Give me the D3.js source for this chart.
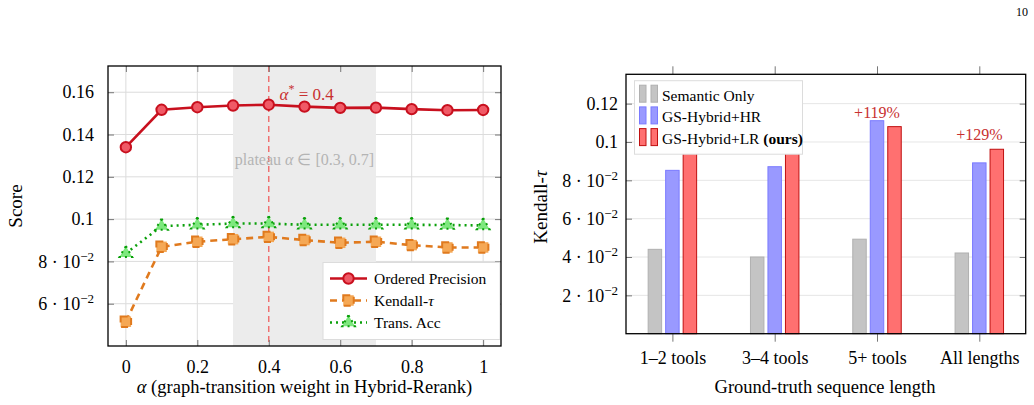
<!DOCTYPE html>
<html>
<head>
<meta charset="utf-8">
<script src="https://d3js.org/d3.v7.min.js"></script>
<style>
body { margin: 0; background: #fff; }
.grid line { stroke: #dcdcdc; stroke-width: 1; }
</style>
</head>
<body>
<svg id="fig" width="1034" height="405"></svg>
<script>

// left panel: sensitivity to alpha
var alphas = [0, 0.1, 0.2, 0.3, 0.4, 0.5, 0.6, 0.7, 0.8, 0.9, 1]
var orderedPrecision = [0.134, 0.1517, 0.1529, 0.1537, 0.1541, 0.1532, 0.1526, 0.1527, 0.1520, 0.1515, 0.1516]
var kendallTau = [0.0515, 0.0869, 0.0893, 0.0905, 0.0916, 0.0901, 0.0888, 0.0893, 0.0877, 0.0866, 0.0866]
var transAcc = [0.0838, 0.0967, 0.0973, 0.0979, 0.0979, 0.0973, 0.0973, 0.0973, 0.0973, 0.0972, 0.0970]
var leftXTicks = [0, 0.2, 0.4, 0.6, 0.8, 1]
var leftYTicks = [0.06, 0.08, 0.1, 0.12, 0.14, 0.16]
var plateau = [0.3, 0.7]
var alphaStar = 0.4

// right panel: Kendall-tau by sequence length
var lengths = ["1–2 tools", "3–4 tools", "5+ tools", "All lengths"]
var methods = ["Semantic Only", "GS-Hybrid+HR", "GS-Hybrid+LR"]
var semanticOnly = [0.044, 0.040, 0.0493, 0.0421]
var hybridHR = [0.0852, 0.0871, 0.1111, 0.0891]
var hybridLR = [0.098, 0.096, 0.108, 0.0962]
var gains = [null, null, "+119%", "+129%"]
var rightYTicks = [0.02, 0.04, 0.06, 0.08, 0.1, 0.12]

var serif = '"Liberation Serif", "Times New Roman", Times, serif'
var svg = d3.select("#fig")

// page number
svg.append("text").attr("x", 1028).attr("y", 16).attr("text-anchor", "end")
  .style("font-size", "12px").text("10")

// tick label like "8·10^-2" for values below 0.1
function sciTick(sel) {
  sel.each(function(d) {
    var t = d3.select(this).text("")
    if (d < 0.0999) {
      t.append("tspan").text(Math.round(d * 100) + " · 10")
      t.append("tspan").attr("dy", -7).style("font-size", "13px").text("−2")
    } else {
      t.text(d3.format("")(+d.toFixed(2)))
    }
  })
}

// ---------- left chart ----------
var L = { left: 108, right: 501, top: 66, bottom: 346 }
var x1 = d3.scaleLinear().domain([-0.05, 1.05]).range([L.left, L.right])
var y1 = d3.scaleLinear().domain([0.04, 0.1724]).range([L.bottom, L.top])

var g1 = svg.append("g")

// grid
g1.append("g").attr("class", "grid")
  .selectAll("line.v").data(leftXTicks).enter().append("line")
  .attr("x1", d => x1(d)).attr("x2", d => x1(d)).attr("y1", L.top).attr("y2", L.bottom)
g1.append("g").attr("class", "grid")
  .selectAll("line.h").data(leftYTicks).enter().append("line")
  .attr("x1", L.left).attr("x2", L.right).attr("y1", d => y1(d)).attr("y2", d => y1(d))

// plateau band
g1.append("rect")
  .attr("x", x1(plateau[0])).attr("width", x1(plateau[1]) - x1(plateau[0]))
  .attr("y", L.top).attr("height", L.bottom - L.top)
  .attr("fill", "#ececec")

g1.append("line")
  .attr("x1", x1(alphaStar)).attr("x2", x1(alphaStar)).attr("y1", L.top).attr("y2", L.bottom)
  .attr("stroke", "#f06060").attr("stroke-width", 1.3).attr("stroke-dasharray", "6,4")

g1.append("text").attr("x", x1(0.5)).attr("y", 165).attr("text-anchor", "middle")
  .style("font-size", "16px").style("fill", "#b4b4b4")
  .html('plateau <tspan font-style="italic">α</tspan> ∈ [0.3, 0.7]')

var star = g1.append("text").attr("x", x1(0.43)).attr("y", 100)
  .style("font-size", "17px").style("fill", "#c83030")
star.append("tspan").attr("font-style", "italic").text("α")
star.append("tspan").attr("dy", -7).style("font-size", "12px").text("*")
star.append("tspan").attr("dy", 7).text(" = 0.4")

// ticks: inside on all sides
var tickLen = 6
g1.append("g").attr("transform", `translate(0,${L.bottom})`)
  .call(d3.axisBottom(x1).tickValues(leftXTicks).tickSize(-tickLen).tickPadding(14).tickFormat(d3.format("")))
  .call(a => a.select(".domain").remove())
g1.append("g").attr("transform", `translate(0,${L.top})`)
  .call(d3.axisTop(x1).tickValues(leftXTicks).tickSize(-tickLen).tickFormat(""))
  .call(a => a.select(".domain").remove())
g1.append("g").attr("transform", `translate(${L.left},0)`)
  .call(d3.axisLeft(y1).tickValues(leftYTicks).tickSize(-tickLen).tickPadding(14))
  .call(a => a.select(".domain").remove())
  .selectAll(".tick text").call(sciTick)
g1.append("g").attr("transform", `translate(${L.right},0)`)
  .call(d3.axisRight(y1).tickValues(leftYTicks).tickSize(-tickLen).tickFormat(""))
  .call(a => a.select(".domain").remove())
g1.selectAll(".tick line").attr("stroke", "#777")

// series
var series1 = [
  { name: "Ordered Precision", values: orderedPrecision, color: "#c8101e", fill: "#f05a66", dash: null, mark: "circle" },
  { name: "Kendall-τ", values: kendallTau, color: "#e07a1e", fill: "#f5a855", dash: "7,5", mark: "square" },
  { name: "Trans. Acc", values: transAcc, color: "#0aa00a", fill: "#7ee87e", dash: "2,4", mark: "triangle" }
]
var line1 = d3.line().x((d, i) => x1(alphas[i])).y(d => y1(d))
var symbols = { circle: d3.symbolCircle, square: d3.symbolSquare, triangle: d3.symbolTriangle }
var symSize = { circle: 85, square: 110, triangle: 70 }

series1.forEach(function(s) {
  g1.append("path").datum(s.values).attr("d", line1)
    .attr("fill", "none").attr("stroke", s.color).attr("stroke-width", 2.6)
    .attr("stroke-dasharray", s.dash)
  g1.selectAll(null).data(s.values).enter().append("path")
    .attr("transform", (d, i) => `translate(${x1(alphas[i])},${y1(d)})`)
    .attr("d", d3.symbol().type(symbols[s.mark]).size(symSize[s.mark]))
    .attr("fill", s.fill).attr("stroke", s.color).attr("stroke-width", 2)
    .attr("stroke-dasharray", s.dash)
})

// legend
var lg1 = g1.append("g")
lg1.append("rect").attr("x", 323).attr("y", 262.5).attr("width", 177).attr("height", 77)
  .attr("fill", "#fff").attr("stroke", "#dcdcdc")
series1.forEach(function(s, i) {
  var cy = 278.5 + i * 22
  lg1.append("line").attr("x1", 330).attr("x2", 367).attr("y1", cy).attr("y2", cy)
    .attr("stroke", s.color).attr("stroke-width", 2.6).attr("stroke-dasharray", s.dash)
  lg1.append("path").attr("transform", `translate(348.5,${cy})`)
    .attr("d", d3.symbol().type(symbols[s.mark]).size(symSize[s.mark]))
    .attr("fill", s.fill).attr("stroke", s.color).attr("stroke-width", 2)
    .attr("stroke-dasharray", s.dash)
  var t = lg1.append("text").attr("x", 374).attr("y", cy + 5.5).style("font-size", "15.5px")
  if (s.name == "Kendall-τ") {
    t.append("tspan").text("Kendall-")
    t.append("tspan").attr("font-style", "italic").text("τ")
  } else t.text(s.name)
})

g1.append("rect").attr("x", L.left).attr("y", L.top)
  .attr("width", L.right - L.left).attr("height", L.bottom - L.top)
  .attr("fill", "none").attr("stroke", "#000").attr("stroke-width", 1.3)

svg.append("text").attr("transform", "translate(22,206) rotate(-90)")
  .attr("text-anchor", "middle").style("font-size", "19px").text("Score")
svg.append("text").attr("x", x1(0.5)).attr("y", 393).attr("text-anchor", "middle")
  .style("font-size", "18.5px")
  .html('<tspan font-style="italic">α</tspan> (graph-transition weight in Hybrid-Rerank)')

// ---------- right chart ----------
var R = { left: 626, right: 1025.7, top: 74.3, bottom: 333.7 }
var x2 = d3.scalePoint().domain(lengths).range([R.left, R.right]).padding(0.4535)
var xs = d3.scaleBand().domain(methods).range([-26.25, 26.25]).paddingInner(0.23).paddingOuter(0.115)
var y2 = d3.scaleLinear().domain([0, 0.1353]).range([R.bottom, R.top])

var g2 = svg.append("g")
g2.append("g").attr("class", "grid")
  .selectAll("line").data(rightYTicks).enter().append("line")
  .attr("x1", R.left).attr("x2", R.right).attr("y1", d => y2(d)).attr("y2", d => y2(d))
  .style("stroke", "#e6e6e6")

var barStyles = [
  { fill: "#c4c4c4", stroke: "#b0b0b0" },
  { fill: "#9999ff", stroke: "#7a7aff" },
  { fill: "#ff7070", stroke: "#c01010" }
]
var barData = [semanticOnly, hybridHR, hybridLR]

barData.forEach(function(vals, k) {
  g2.selectAll(null).data(vals).enter().append("rect")
    .attr("x", (d, i) => x2(lengths[i]) + xs(methods[k]))
    .attr("width", xs.bandwidth())
    .attr("y", d => y2(d))
    .attr("height", d => R.bottom - y2(d))
    .attr("fill", barStyles[k].fill).attr("stroke", barStyles[k].stroke).attr("stroke-width", 1)
})

g2.selectAll(null).data(gains).enter().filter(d => d).append("text")
  .attr("x", (d, i) => x2(lengths[gains.indexOf(d)]))
  .attr("y", d => y2(hybridLR[gains.indexOf(d)]) - 9)
  .attr("text-anchor", "middle").style("font-size", "16px").style("fill", "#c83030")
  .text(d => d)

// axes
g2.append("g").attr("transform", `translate(0,${R.bottom})`)
  .call(d3.axisBottom(x2).tickSize(8).tickPadding(10))
  .call(a => a.select(".domain").remove())
g2.append("g").attr("transform", `translate(0,${R.top})`)
  .call(d3.axisTop(x2).tickSize(8).tickFormat(""))
  .call(a => a.select(".domain").remove())
g2.append("g").attr("transform", `translate(${R.left},0)`)
  .call(d3.axisLeft(y2).tickValues(rightYTicks).tickSize(-tickLen).tickPadding(8))
  .call(a => a.select(".domain").remove())
  .selectAll(".tick text").call(sciTick)
g2.append("g").attr("transform", `translate(${R.right},0)`)
  .call(d3.axisRight(y2).tickValues(rightYTicks).tickSize(-tickLen).tickFormat(""))
  .call(a => a.select(".domain").remove())
g2.selectAll(".tick line").attr("stroke", "#777")

// legend
var lg2 = g2.append("g")
lg2.append("rect").attr("x", 634.5).attr("y", 80.7).attr("width", 168).attr("height", 73.5)
  .attr("fill", "#fff").attr("stroke", "#dcdcdc")
methods.forEach(function(m, k) {
  var base = 100.7 + k * 21.7
  ;[639.5, 651].forEach(function(bx) {
    lg2.append("rect").attr("x", bx).attr("y", base - 15.5).attr("width", 6.5).attr("height", 17)
      .attr("fill", barStyles[k].fill).attr("stroke", barStyles[k].stroke)
  })
  var t = lg2.append("text").attr("x", 662).attr("y", base).style("font-size", "15.5px")
  if (k == 2) {
    t.append("tspan").text("GS-Hybrid+LR ")
    t.append("tspan").attr("font-weight", "bold").text("(ours)")
  } else t.text(m)
})

g2.append("rect").attr("x", R.left).attr("y", R.top)
  .attr("width", R.right - R.left).attr("height", R.bottom - R.top)
  .attr("fill", "none").attr("stroke", "#000").attr("stroke-width", 1.3)

svg.append("text").attr("transform", "translate(547,207) rotate(-90)")
  .attr("text-anchor", "middle").style("font-size", "19px")
  .html('Kendall-<tspan font-style="italic">τ</tspan>')
svg.append("text").attr("x", 825).attr("y", 393).attr("text-anchor", "middle")
  .style("font-size", "18.5px").text("Ground-truth sequence length")

// serif everywhere, axis labels at 18px
svg.selectAll(".tick text").style("font-size", "18px").attr("fill", "#000")
svg.selectAll("text").style("font-family", serif)

</script>
</body>
</html>
